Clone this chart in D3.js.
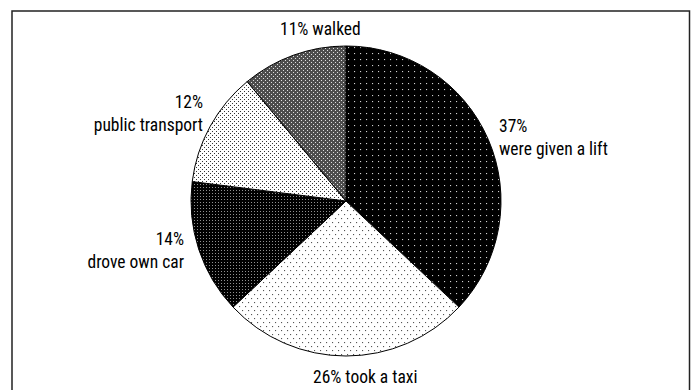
<!DOCTYPE html>
<html><head><meta charset="utf-8">
<script src="https://cdn.jsdelivr.net/npm/d3@7"></script>
<style>
html,body{margin:0;padding:0;background:#fff;}
text{font-family:"Liberation Sans Narrow","Roboto Condensed","Arial Narrow",sans-serif;font-size:17.5px;fill:#000;}
</style></head>
<body><svg id="c" width="693" height="390"></svg>
<script>
const categories = ["were given a lift","took a taxi","drove own car","public transport","walked"];
const values = [37, 26, 14, 12, 11];
const labelPrefix = ["37%","26%","14%","12%","11%"];

const svg = d3.select("#c");
const defs = svg.append("defs");

function pat(id, w, h, bg, dots, dotColor, ds){
  const p = defs.append("pattern").attr("id", id).attr("patternUnits","userSpaceOnUse")
    .attr("width", w).attr("height", h);
  p.append("rect").attr("width", w).attr("height", h).attr("fill", bg);
  dots.forEach(d => p.append("rect").attr("x", d[0]).attr("y", d[1]).attr("width", ds).attr("height", ds).attr("fill", dotColor));
}
pat("p0", 6, 6, "#000", [[2,2]], "#d0d0d0", 1.1);
pat("p1", 6, 8, "#fff", [[1,1],[4,5]], "#555", 1.1);
pat("p2", 3, 3, "#000", [[1,1]], "#909090", 1);
pat("p3", 4, 4, "#fff", [[0,0],[2,2]], "#333", 1);
pat("p4", 4, 4, "#4d4d4d", [[1,1],[3,3]], "#e0e0e0", 1);
const fills = ["url(#p0)","url(#p1)","url(#p2)","url(#p3)","url(#p4)"];

// frame
svg.append("rect").attr("x", 12).attr("y", 11).attr("width", 677.5).attr("height", 420)
  .attr("fill","none").attr("stroke","#222").attr("stroke-width",1.5);

const cx = 346, cy = 201, r = 155;
const pie = d3.pie().sort(null).value(d => d);
const arc = d3.arc().innerRadius(0).outerRadius(r);
const g = svg.append("g").attr("transform", `translate(${cx},${cy})`);
g.selectAll("path").data(pie(values)).join("path")
  .attr("d", arc).attr("fill", (d,i) => fills[i])
  .attr("stroke", "#000").attr("stroke-width", 1);

// labels (positions relative to pie centre)
const lab = svg.append("g").attr("transform", `translate(${cx},${cy})`);
function two(i, x, y, anchor){
  const t = lab.append("text").attr("text-anchor", anchor);
  t.append("tspan").attr("x", x).attr("y", y).text(labelPrefix[i]);
  t.append("tspan").attr("x", x).attr("y", y + 23).text(categories[i]);
}
two(0, 153, -69, "start");
two(3, -143, -93, "end");
two(2, -162, 44, "end");
lab.append("text").attr("x", -33).attr("y", 182).attr("text-anchor","start").text(labelPrefix[1] + " " + categories[1]);
lab.append("text").attr("x", -66).attr("y", -166).attr("text-anchor","start").text(labelPrefix[4] + " " + categories[4]);
</script></body></html>
